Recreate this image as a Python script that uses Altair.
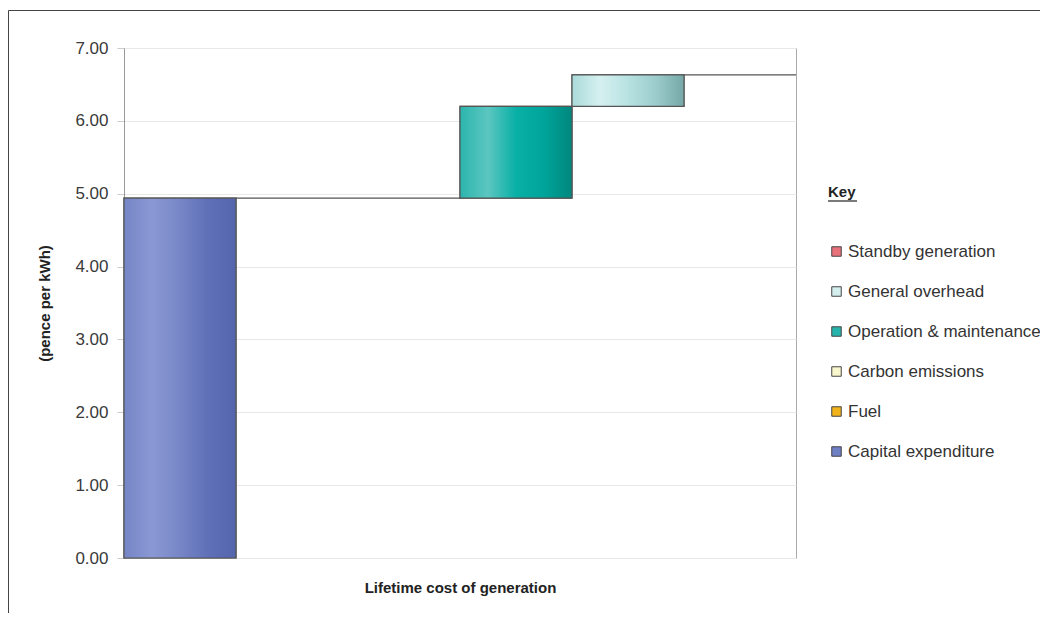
import altair as alt
import pandas as pd

# ---- data ----
categories = ["Capital expenditure", "Fuel", "Carbon emissions",
              "Operation & maintenance", "General overhead", "Standby generation"]
values = [4.94, 0.0, 0.0, 1.26, 0.43, 0.0]
legend_order = ["Standby generation", "General overhead", "Operation & maintenance",
                "Carbon emissions", "Fuel", "Capital expenditure"]
legend_colors = ["#e8707a", "#d4eeee", "#26b3ab", "#f8f6cc", "#f2b21a", "#6f7fc4"]
y_ticks = [0, 1, 2, 3, 4, 5, 6, 7]

# gradient stops (left -> right) for the non-zero bars
gradients = {
    "Capital expenditure": ["#7585c6", "#8a99d4", "#7786c6", "#5f70b8", "#5565ad"],
    "Operation & maintenance": ["#2bb5ad", "#5cc6c0", "#08b0a6", "#00a49a", "#00877e"],
    "General overhead": ["#aadada", "#d6f0f0", "#b8e2e2", "#9ccccc", "#76a8a8"],
}

df = pd.DataFrame({"category": categories, "value": values})
df["end"] = df["value"].cumsum().round(2)
df["start"] = (df["end"] - df["value"]).round(2)

FONT = "Liberation Sans"
STROKE = "#555555"

x_enc = alt.X("category:N", sort=categories,
              scale=alt.Scale(paddingInner=0, paddingOuter=0),
              axis=alt.Axis(title="Lifetime cost of generation", labels=False, ticks=False,
                            domain=False, grid=False, titleFontSize=15, titleFontWeight="bold",
                            titleColor="#222222", titleFont=FONT, titlePadding=22))
y_enc = alt.Y("start:Q", scale=alt.Scale(domain=[0, 7], nice=False),
              axis=alt.Axis(title="(pence per kWh)", values=y_ticks, format=".2f",
                            labelFontSize=17, labelColor="#3a3a3a", labelFont=FONT,
                            labelPadding=9, tickSize=7, tickColor="#cccccc",
                            domainColor="#999999", gridColor="#e8e8e8",
                            titleFontSize=15, titleFontWeight="bold", titleColor="#222222",
                            titleFont=FONT, titlePadding=22))

base = alt.Chart(df).mark_bar(stroke=STROKE, strokeWidth=1.2).encode(
    x=x_enc,
    y=y_enc,
    y2="end:Q",
    color=alt.Color("category:N",
                    scale=alt.Scale(domain=legend_order, range=legend_colors),
                    legend=alt.Legend(title="Key", orient="none", legendX=704, legendY=137,
                                      titleFontSize=15, titleFontWeight="bold",
                                      titleColor="#222222", titleFont=FONT, titlePadding=43,
                                      labelFontSize=17, labelColor="#333333", labelFont=FONT,
                                      labelOffset=3, labelLimit=0, rowPadding=22,
                                      symbolType="square",
                                      symbolSize=90, symbolStrokeColor="#444444",
                                      symbolStrokeWidth=1, padding=0)),
)

layers = [base]
for cat, stops in gradients.items():
    n = len(stops)
    grad = alt.Gradient(gradient="linear",
                        stops=[alt.GradientStop(color=c, offset=i / (n - 1)) for i, c in enumerate(stops)],
                        x1=0, x2=1, y1=0, y2=0)
    layers.append(
        alt.Chart(df).transform_filter(alt.datum.category == cat)
        .mark_bar(fill=grad, stroke=STROKE, strokeWidth=1.2)
        .encode(x=alt.X("category:N", sort=categories), y="start:Q", y2="end:Q")
    )

# underline of "Key" and outer frame lines (decoration)
deco = pd.DataFrame({"k": [0]})
underline = alt.Chart(deco).mark_rule(color="#222222", strokeWidth=1.2).encode(
    x=alt.value(704), x2=alt.value(733), y=alt.value(153))
frame_top = alt.Chart(deco).mark_rule(color="#444444", strokeWidth=1).encode(
    x=alt.value(-115.5), x2=alt.value(940), y=alt.value(-37.5))
frame_left = alt.Chart(deco).mark_rule(color="#444444", strokeWidth=1).encode(
    x=alt.value(-115.5), y=alt.value(-37.5), y2=alt.value(600))

chart = alt.layer(*layers, underline, frame_top, frame_left).properties(
    width=672, height=510,
    autosize=alt.AutoSizeParams(type="none"),
    padding={"left": 116, "top": 40, "right": 244, "bottom": 55},
).configure_view(stroke="#aaaaaa", strokeWidth=1)

chart.save("out.html", embed_options={"renderer": "svg", "actions": False})
